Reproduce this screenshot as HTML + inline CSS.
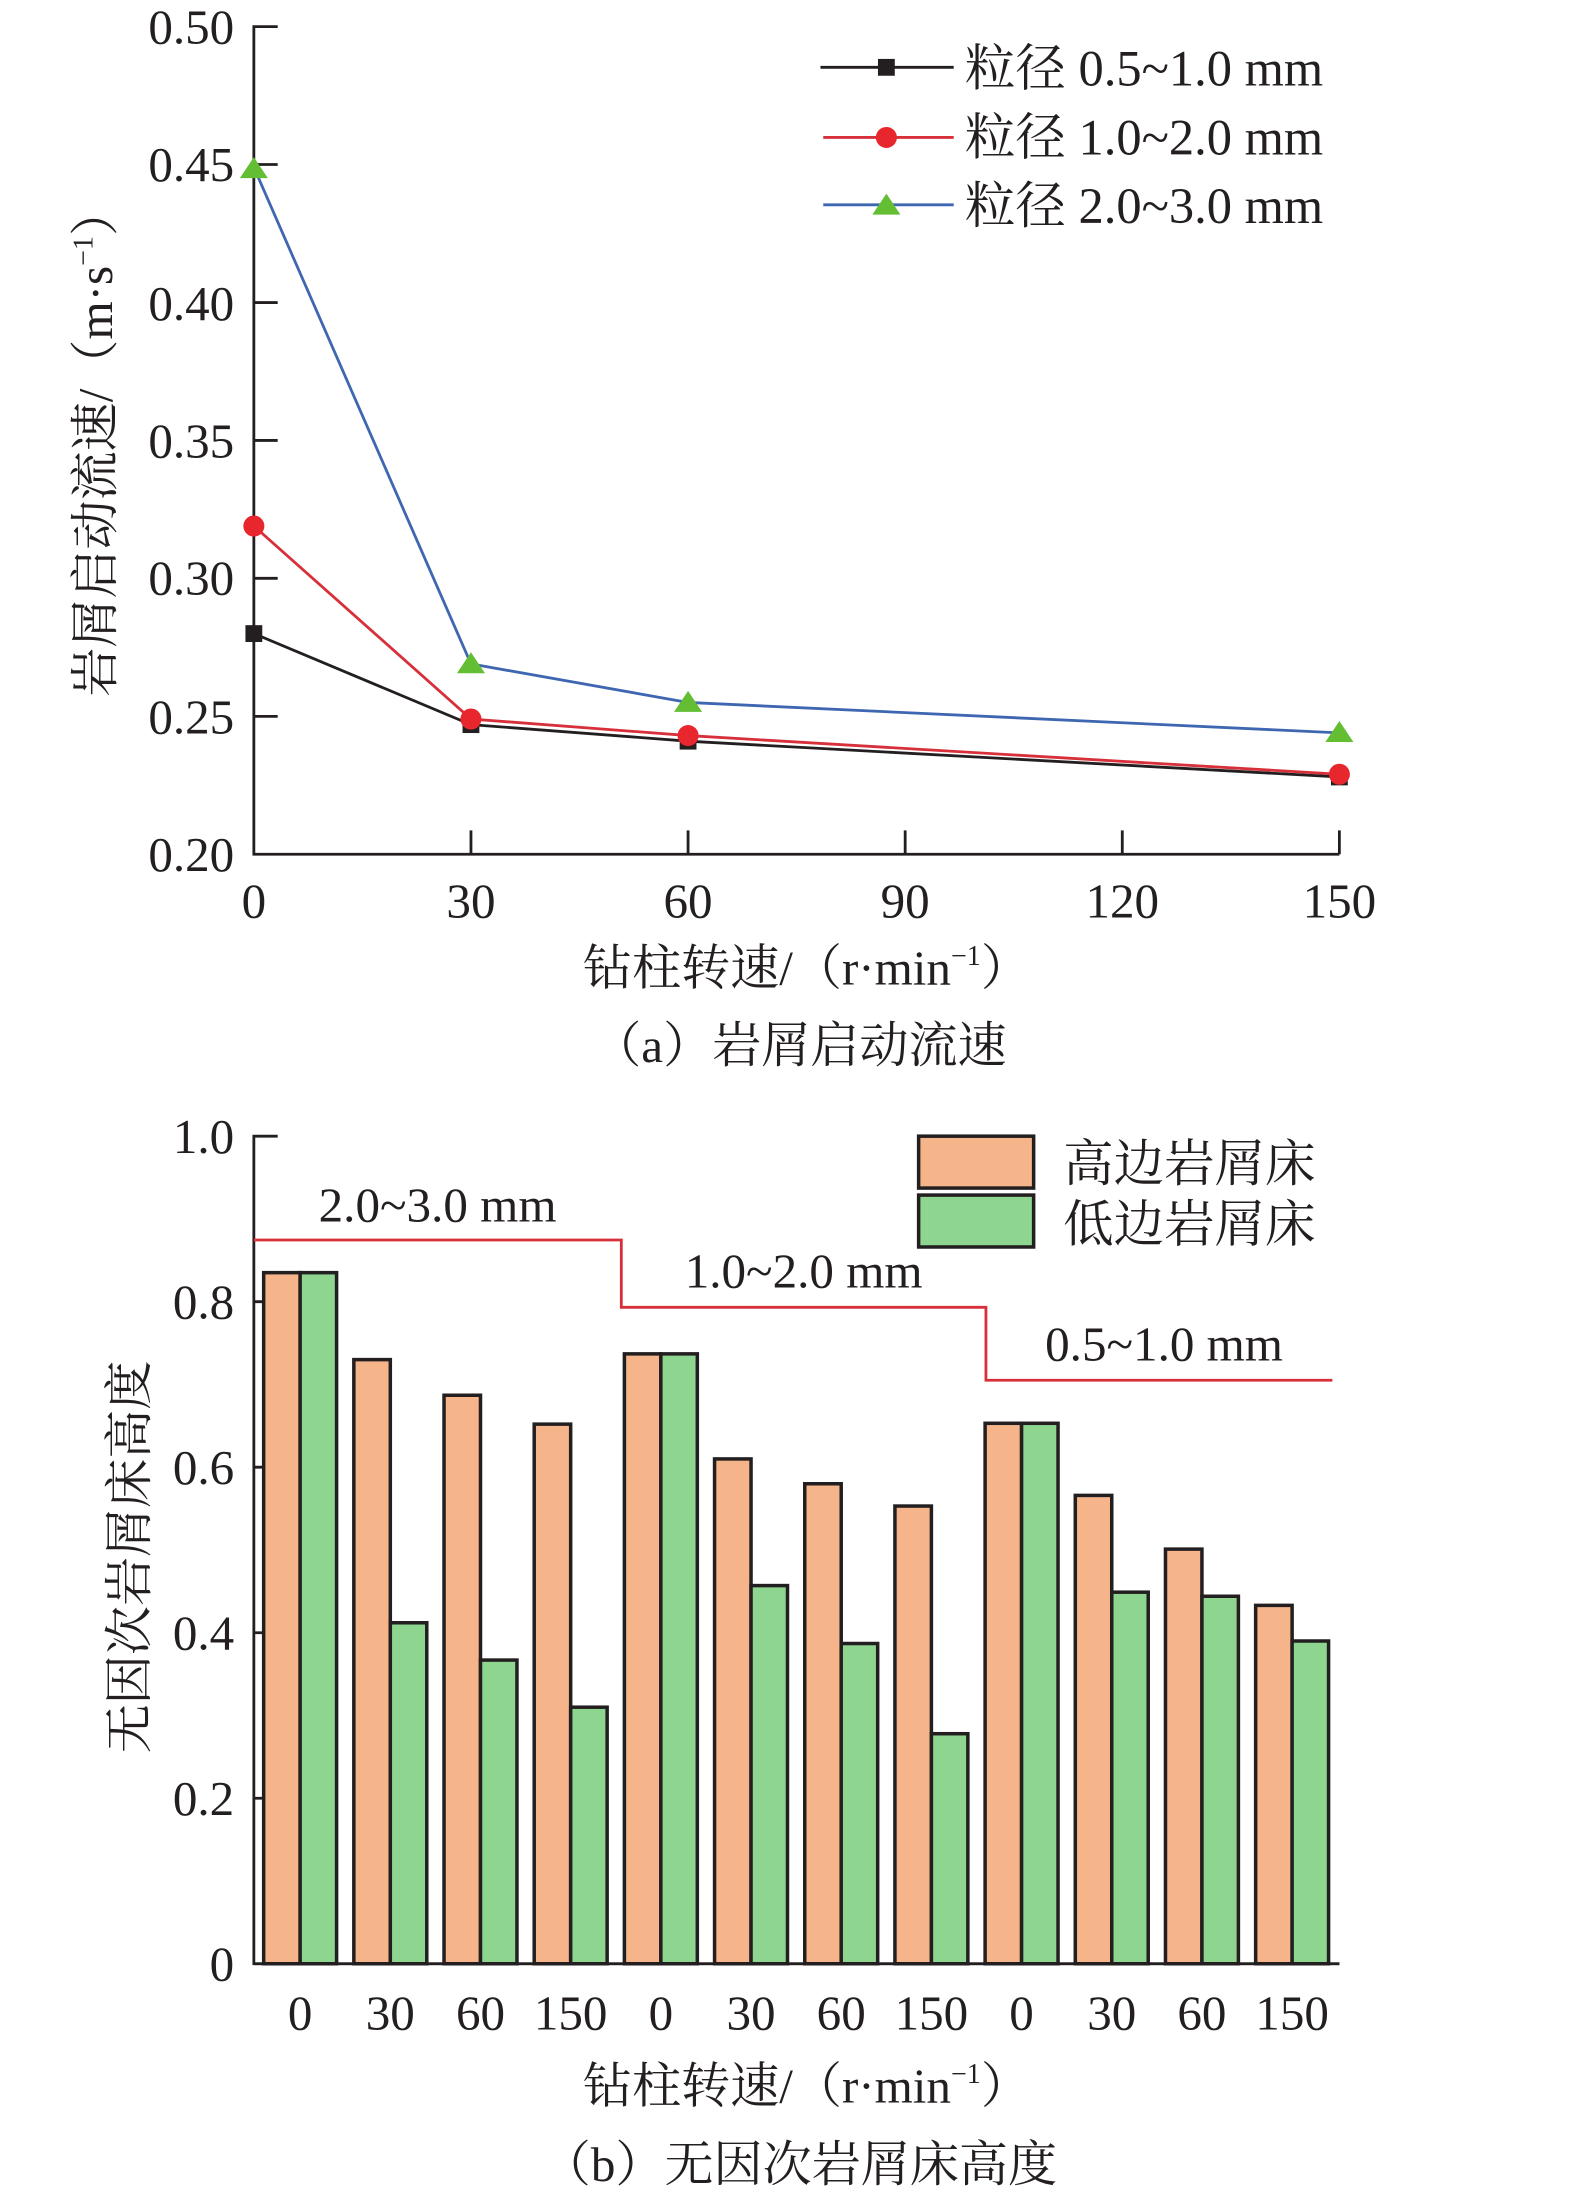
<!DOCTYPE html>
<html><head><meta charset="utf-8"><style>html,body{margin:0;padding:0;background:#fff}svg{display:block}text{font-family:"Liberation Serif","Noto Serif CJK SC",serif;fill:#231f20}</style></head>
<body>
<svg width="1575" height="2198" viewBox="0 0 1123 1567" preserveAspectRatio="none" xmlns="http://www.w3.org/2000/svg">
<!-- Chart A -->
<g stroke="#231f20" stroke-width="2" fill="none">
<polyline points="198,19 181,19 181,609 955,609"/>
<line x1="181" y1="117.3" x2="198" y2="117.3"/><line x1="181" y1="215.7" x2="198" y2="215.7"/><line x1="181" y1="314" x2="198" y2="314"/><line x1="181" y1="412.3" x2="198" y2="412.3"/><line x1="181" y1="510.7" x2="198" y2="510.7"/>
<line x1="335.8" y1="609" x2="335.8" y2="592"/><line x1="490.6" y1="609" x2="490.6" y2="592"/><line x1="645.4" y1="609" x2="645.4" y2="592"/><line x1="800.2" y1="609" x2="800.2" y2="592"/><line x1="955" y1="609" x2="955" y2="592"/>
</g>
<g font-size="35" text-anchor="end">
<text x="167" y="31">0.50</text><text x="167" y="129">0.45</text><text x="167" y="228">0.40</text><text x="167" y="326">0.35</text><text x="167" y="424">0.30</text><text x="167" y="523">0.25</text><text x="167" y="621">0.20</text>
</g>
<g font-size="35" text-anchor="middle">
<text x="181" y="654">0</text><text x="335.8" y="654">30</text><text x="490.6" y="654">60</text><text x="645.4" y="654">90</text><text x="800.2" y="654">120</text><text x="955" y="654">150</text>
<text x="575" y="702">钻柱转速/（r·min<tspan font-size="20" dy="-14">−1</tspan><tspan dy="14">）</tspan></text>
<text x="570" y="757">（a）岩屑启动流速</text>
</g>
<text font-size="35" text-anchor="middle" transform="translate(80,315) rotate(-90)">岩屑启动流速/（m·s<tspan font-size="20" dy="-14">−1</tspan><tspan dy="14">）</tspan></text>
<polyline points="181,451.7 335.8,516.6 490.6,528.4 955,553.9" stroke="#231f20" stroke-width="2" fill="none"/>
<polyline points="181,375 335.8,512.6 490.6,524.4 955,552" stroke="#d7303a" stroke-width="2" fill="none"/>
<polyline points="181,119.3 335.8,473.3 490.6,500.8 955,522.5" stroke="#3f67b1" stroke-width="2" fill="none"/>
<g fill="#231f20"><rect x="175" y="445.7" width="12" height="12"/><rect x="329.8" y="510.6" width="12" height="12"/><rect x="484.6" y="522.4" width="12" height="12"/><rect x="949" y="547.9" width="12" height="12"/></g>
<g fill="#e8262d"><circle cx="181" cy="375" r="7.5"/><circle cx="335.8" cy="512.6" r="7.5"/><circle cx="490.6" cy="524.4" r="7.5"/><circle cx="955" cy="552" r="7.5"/></g>
<g fill="#63be34"><polygon points="181,112 171,127 191,127"/><polygon points="335.8,465 325.8,480 345.8,480"/><polygon points="490.6,492.5 480.6,507.5 500.6,507.5"/><polygon points="955,514 945,529 965,529"/></g>
<!-- legend A -->
<line x1="585" y1="48" x2="680" y2="48" stroke="#231f20" stroke-width="2"/><rect x="626" y="42" width="12" height="12" fill="#231f20"/>
<line x1="587" y1="98" x2="680" y2="98" stroke="#d7303a" stroke-width="2"/><circle cx="632" cy="98" r="7.5" fill="#e8262d"/>
<line x1="587" y1="146" x2="680" y2="146" stroke="#3f67b1" stroke-width="2"/><polygon points="632,138 622,153 642,153" fill="#63be34"/>
<g font-size="36"><text x="688" y="61">粒径 0.5~1.0 mm</text><text x="688" y="110">粒径 1.0~2.0 mm</text><text x="688" y="159">粒径 2.0~3.0 mm</text></g>

<!-- Chart B -->
<g stroke="#231f20" stroke-width="2" fill="none">
<polyline points="198,810 181,810 181,1400 955,1400"/>
<line x1="181" y1="928" x2="198" y2="928"/><line x1="181" y1="1046" x2="198" y2="1046"/><line x1="181" y1="1164" x2="198" y2="1164"/><line x1="181" y1="1282" x2="198" y2="1282"/>
</g>
<g font-size="35" text-anchor="end">
<text x="167" y="822">1.0</text><text x="167" y="940">0.8</text><text x="167" y="1058">0.6</text><text x="167" y="1176">0.4</text><text x="167" y="1294">0.2</text><text x="167" y="1412">0</text>
</g>
<text font-size="35" text-anchor="middle" transform="translate(104,1110) rotate(-90)">无因次岩屑床高度</text>
<polyline points="181,884 443,884 443,932 703,932 703,984 950,984" stroke="#d7303a" stroke-width="2" fill="none"/>
<g font-size="35" text-anchor="middle"><text x="312" y="871">2.0~3.0 mm</text><text x="573" y="918">1.0~2.0 mm</text><text x="830" y="970">0.5~1.0 mm</text></g>
<g stroke="#231f20" stroke-width="2.5" fill="#f6b48a">
<rect x="188" y="907.3" width="26" height="492.7"/><rect x="252.3" y="969.3" width="26" height="430.7"/><rect x="316.6" y="994.7" width="26" height="405.3"/><rect x="380.9" y="1015.3" width="26" height="384.7"/><rect x="445.2" y="965.2" width="26" height="434.8"/><rect x="509.5" y="1040.1" width="26" height="359.9"/><rect x="573.8" y="1057.8" width="26" height="342.2"/><rect x="638.1" y="1073.7" width="26" height="326.3"/><rect x="702.4" y="1014.7" width="26" height="385.3"/><rect x="766.7" y="1066.1" width="26" height="333.9"/><rect x="831" y="1104.4" width="26" height="295.6"/><rect x="895.3" y="1144.5" width="26" height="255.5"/>
</g>
<g stroke="#231f20" stroke-width="2.5" fill="#8ed68f">
<rect x="214" y="907.3" width="26" height="492.7"/><rect x="278.3" y="1156.9" width="26" height="243.1"/><rect x="342.6" y="1183.5" width="26" height="216.5"/><rect x="406.9" y="1217.1" width="26" height="182.9"/><rect x="471.2" y="965.2" width="26" height="434.8"/><rect x="535.5" y="1130.4" width="26" height="269.6"/><rect x="599.8" y="1171.7" width="26" height="228.3"/><rect x="664.1" y="1236" width="26" height="164"/><rect x="728.4" y="1014.7" width="26" height="385.3"/><rect x="792.7" y="1135.1" width="26" height="264.9"/><rect x="857" y="1138" width="26" height="262"/><rect x="921.3" y="1169.9" width="26" height="230.1"/>
</g>
<line x1="181" y1="1400" x2="955" y2="1400" stroke="#231f20" stroke-width="2"/>
<g font-size="35" text-anchor="middle">
<text x="214" y="1447">0</text><text x="278.3" y="1447">30</text><text x="342.6" y="1447">60</text><text x="406.9" y="1447">150</text><text x="471.2" y="1447">0</text><text x="535.5" y="1447">30</text><text x="599.8" y="1447">60</text><text x="664.1" y="1447">150</text><text x="728.4" y="1447">0</text><text x="792.7" y="1447">30</text><text x="857" y="1447">60</text><text x="921.3" y="1447">150</text>
<text x="575" y="1499">钻柱转速/（r·min<tspan font-size="20" dy="-14">−1</tspan><tspan dy="14">）</tspan></text>
<text x="570" y="1555">（b）无因次岩屑床高度</text>
</g>
<rect x="655" y="810" width="82" height="37" fill="#f6b48a" stroke="#231f20" stroke-width="2.5"/>
<rect x="655" y="852" width="82" height="37" fill="#8ed68f" stroke="#231f20" stroke-width="2.5"/>
<g font-size="36"><text x="758" y="842">高边岩屑床</text><text x="758" y="885">低边岩屑床</text></g>
</svg>
</body></html>
